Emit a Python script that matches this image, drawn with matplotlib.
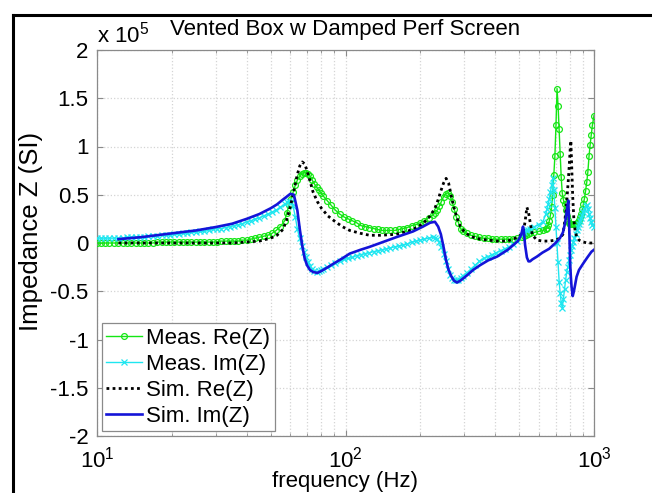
import matplotlib
matplotlib.use('Agg')
import matplotlib.pyplot as plt
from matplotlib.lines import Line2D
from matplotlib.ticker import FixedLocator, FixedFormatter, LogLocator, NullFormatter

# ---------------- data (impedance values in units of 1e5 SI) ----------------
meas_freq = [
    10.0, 10.4, 10.8, 11.2, 11.7, 12.2, 12.7, 13.2, 13.7, 14.3,
    14.9, 15.5, 16.1, 16.8, 17.5, 18.2, 18.9, 19.7, 20.5, 21.3,
    22.2, 23.1, 24.0, 25.0, 26.0, 27.0, 28.1, 29.2, 30.4, 31.6,
    32.9, 34.2, 35.6, 37.0, 38.5, 40.0, 41.6, 43.3, 45.0, 46.8,
    48.7, 50.6, 52.6, 54.7, 56.9,
    58.0, 59.2, 60.4, 61.6, 62.8, 64.0, 65.3, 66.6, 67.9, 69.3,
    70.7, 72.1, 73.5, 75.0, 76.5, 78.0, 79.6,
    81.2, 84.3, 87.6, 91.1, 94.8, 98.6, 102.5, 106.6, 110.9, 115.3,
    119.9, 124.7, 129.7, 134.9, 140.3, 145.9, 151.7, 157.8, 164.1, 170.7,
    177.5, 184.6, 192.0, 199.7, 207.6, 216.0, 224.6,
    229.1, 233.7, 238.4, 243.2, 248.0, 253.0, 258.0, 263.2, 268.5, 273.9,
    279.3, 284.9, 290.6, 296.4,
    307.4, 319.7, 332.4, 345.7, 359.6, 374.0, 388.9, 404.5, 420.7, 437.5,
    455.0, 473.2, 492.1, 511.8, 522.0, 532.3, 542.0, 553.6, 575.7, 598.7,
    622.7,
    640, 647, 654, 661, 668, 675, 682, 689, 696, 703,
    710, 717, 724, 731, 738, 745, 753, 761, 769, 777,
    785, 793, 801, 809, 817, 825, 834, 843, 852, 861,
    870, 879, 888, 897, 906, 915, 925, 935, 945, 955,
    965, 975, 985, 1000,
]

meas_re = [
    0.00, 0.00, 0.00, 0.00, 0.00, 0.00, 0.00, 0.00, 0.00, 0.00,
    0.00, 0.00, 0.00, 0.00, 0.01, 0.01, 0.01, 0.01, 0.01, 0.01,
    0.01, 0.01, 0.01, 0.01, 0.01, 0.01, 0.01, 0.01, 0.01, 0.02,
    0.02, 0.02, 0.02, 0.02, 0.03, 0.03, 0.04, 0.05, 0.06, 0.07,
    0.08, 0.10, 0.13, 0.17, 0.23,
    0.31, 0.39, 0.46, 0.53, 0.60, 0.65, 0.69, 0.72, 0.73, 0.73,
    0.72, 0.69, 0.65, 0.61, 0.58, 0.55, 0.52,
    0.49, 0.44, 0.39, 0.34, 0.30, 0.27, 0.25, 0.23, 0.21, 0.18,
    0.17, 0.16, 0.15, 0.14, 0.13, 0.13, 0.13, 0.13, 0.14, 0.15,
    0.16, 0.18, 0.19, 0.21, 0.23, 0.26, 0.29,
    0.31, 0.34, 0.38, 0.43, 0.48, 0.51, 0.52, 0.49, 0.43, 0.35,
    0.27, 0.21, 0.15, 0.12,
    0.10, 0.08, 0.07, 0.06, 0.05, 0.05, 0.04, 0.04, 0.04, 0.04,
    0.04, 0.04, 0.05, 0.06, 0.07, 0.08, 0.09, 0.10, 0.11, 0.12,
    0.13,
    0.14, 0.16, 0.19, 0.23, 0.29, 0.37, 0.50, 0.70, 0.90, 1.22,
    1.60, 1.42, 1.18, 0.92, 0.68, 0.52, 0.45, 0.40, 0.34, 0.28,
    0.24, 0.21, 0.20, 0.20, 0.20, 0.20, 0.20, 0.20, 0.21, 0.22,
    0.24, 0.27, 0.30, 0.35, 0.40, 0.46, 0.54, 0.63, 0.74, 0.90,
    1.02, 1.12, 1.22, 1.32,
]

meas_im = [
    0.05, 0.05, 0.05, 0.05, 0.05, 0.05, 0.05, 0.06, 0.06, 0.06,
    0.06, 0.06, 0.07, 0.07, 0.07, 0.08, 0.08, 0.08, 0.09, 0.09,
    0.10, 0.10, 0.11, 0.11, 0.12, 0.12, 0.13, 0.14, 0.15, 0.15,
    0.16, 0.17, 0.18, 0.19, 0.20, 0.22, 0.23, 0.25, 0.26, 0.28,
    0.30, 0.32, 0.34, 0.37, 0.40,
    0.42, 0.44, 0.43, 0.38, 0.27, 0.15, 0.05, -0.03, -0.09, -0.15,
    -0.20, -0.24, -0.27, -0.29, -0.30, -0.29, -0.28,
    -0.27, -0.25, -0.23, -0.21, -0.19, -0.17, -0.16, -0.15, -0.13, -0.12,
    -0.11, -0.10, -0.09, -0.08, -0.07, -0.06, -0.05, -0.04, -0.03, -0.02,
    -0.01, 0.01, 0.02, 0.03, 0.04, 0.05, 0.06,
    0.05, 0.04, 0.01, -0.04, -0.11, -0.19, -0.27, -0.33, -0.36, -0.38,
    -0.38, -0.38, -0.36, -0.34,
    -0.31, -0.27, -0.23, -0.19, -0.16, -0.14, -0.12, -0.10, -0.08, -0.06,
    -0.04, -0.01, 0.02, 0.08, 0.11, 0.13, 0.13, 0.15, 0.17, 0.19,
    0.22,
    0.30, 0.35, 0.40, 0.46, 0.53, 0.60, 0.67, 0.55, 0.36, 0.17,
    0.00, -0.20, -0.40, -0.52, -0.62, -0.67, -0.58, -0.48, -0.38, -0.30,
    -0.25, -0.18, -0.12, -0.07, -0.03, 0.01, 0.05, 0.09, 0.13, 0.17,
    0.20, 0.23, 0.26, 0.29, 0.32, 0.35, 0.38, 0.39, 0.35, 0.30,
    0.26, 0.22, 0.19, 0.17,
]

sim_freq = [
    12.2, 15, 20, 25, 30, 35, 40, 45, 50, 53,
    56, 58, 60, 62, 64, 65.5, 67, 68.5, 70, 72,
    74, 77, 80, 85, 90, 97, 104, 115, 125, 138,
    160, 187, 205, 219, 229, 236, 242, 248, 254, 260,
    266, 273, 281, 290, 300, 310, 326, 348, 375, 408,
    450, 494, 510, 518, 523, 528, 537, 545, 553, 565,
    590, 620, 660, 700, 729, 750, 764, 778, 788, 795,
    802, 807, 812, 821, 830, 840, 851, 870, 906, 940,
    977, 1000,
]

sim_re = [
    0.00, 0.00, 0.00, 0.00, 0.00, 0.00, 0.01, 0.02, 0.05, 0.08,
    0.14, 0.24, 0.38, 0.54, 0.71, 0.80, 0.84, 0.82, 0.75, 0.64,
    0.53, 0.43, 0.36, 0.28, 0.23, 0.17, 0.13, 0.10, 0.08, 0.08,
    0.09, 0.14, 0.20, 0.28, 0.36, 0.45, 0.54, 0.62, 0.67, 0.62,
    0.50, 0.37, 0.26, 0.17, 0.12, 0.09, 0.06, 0.04, 0.03, 0.02,
    0.02, 0.06, 0.09, 0.12, 0.16, 0.22, 0.37, 0.32, 0.22, 0.08,
    0.03, 0.02, 0.02, 0.03, 0.05, 0.09, 0.24, 0.45, 0.65, 0.80,
    0.97, 1.06, 0.85, 0.48, 0.24, 0.12, 0.07, 0.03, 0.01, 0.00,
    0.00, 0.00,
]

sim_im = [
    0.04, 0.06, 0.10, 0.13, 0.165, 0.20, 0.25, 0.30, 0.36, 0.40,
    0.45, 0.48, 0.51, 0.50, 0.34, 0.14, -0.03, -0.16, -0.23, -0.28,
    -0.30, -0.31, -0.29, -0.25, -0.21, -0.16, -0.11, -0.07, -0.04, 0.00,
    0.06, 0.12, 0.17, 0.21, 0.22, 0.17, 0.09, -0.04, -0.18, -0.28,
    -0.34, -0.39, -0.41, -0.39, -0.36, -0.33, -0.28, -0.23, -0.18, -0.14,
    -0.07, 0.02, 0.09, 0.17, 0.10, -0.02, -0.15, -0.19, -0.19, -0.17,
    -0.14, -0.10, -0.06, 0.00, 0.05, 0.11, 0.20, 0.34, 0.44, 0.15,
    -0.22, -0.35, -0.45, -0.55, -0.50, -0.43, -0.35, -0.28, -0.21, -0.15,
    -0.09, -0.07,
]

series_labels = ['Meas. Re(Z)', 'Meas. Im(Z)', 'Sim. Re(Z)', 'Sim. Im(Z)']
y_ticks = [-2, -1.5, -1, -0.5, 0, 0.5, 1, 1.5, 2]
y_tick_labels = ['-2', '-1.5', '-1', '-0.5', '0', '0.5', '1', '1.5', '2']
title_text = 'Vented Box w Damped Perf Screen'
x_label = 'frequency (Hz)'
y_label = 'Impedance Z (SI)'

# ---------------- styling ----------------
plt.rcParams['font.family'] = ['Liberation Sans', 'DejaVu Sans']
plt.rcParams['mathtext.fontset'] = 'custom'
plt.rcParams['mathtext.rm'] = 'Liberation Sans'
plt.rcParams['mathtext.it'] = 'Liberation Sans:italic'
plt.rcParams['mathtext.bf'] = 'Liberation Sans:bold'
plt.rcParams['axes.unicode_minus'] = False

W, H = 652, 493
fig = plt.figure(figsize=(W / 100, H / 100), dpi=100)
ax_l, ax_r, ax_t, ax_b = 97, 594, 50, 436
ax = fig.add_axes([ax_l / W, 1 - ax_b / H, (ax_r - ax_l) / W, (ax_b - ax_t) / H])

c_green = '#14e614'
c_cyan = '#1ee6f0'
c_blue = '#1414d8'

ax.plot(meas_freq, meas_re, color=c_green, lw=1.0, marker='o', ms=4.2,
        mfc='none', mew=0.9, label=series_labels[0], zorder=3)
ax.plot(meas_freq, meas_im, color=c_cyan, lw=1.0, marker='x', ms=4.0,
        mew=0.9, label=series_labels[1], zorder=3)
ax.plot(sim_freq, sim_re, color='black', lw=2.0, ls=(0, (1, 1.2)),
        label=series_labels[2], zorder=4)
ax.plot(sim_freq, sim_im, color=c_blue, lw=1.9, label=series_labels[3], zorder=5)

ax.set_xscale('log')
ax.set_xlim(10, 1000)
ax.set_ylim(-2, 2)
ax.yaxis.set_major_locator(FixedLocator(y_ticks))
ax.yaxis.set_major_formatter(FixedFormatter(y_tick_labels))
ax.xaxis.set_major_locator(LogLocator(base=10))
ax.xaxis.set_minor_locator(LogLocator(base=10, subs=range(2, 10)))
ax.xaxis.set_minor_formatter(NullFormatter())

grid_kw = dict(color='#d4d4d4', linestyle=':', linewidth=0.9)
ax.grid(True, which='major', axis='both', **grid_kw)
ax.grid(True, which='minor', axis='x', **grid_kw)
ax.set_axisbelow(True)

for s in ax.spines.values():
    s.set_color('#8a8a8a')
    s.set_linewidth(0.9)
ax.tick_params(which='both', direction='in', top=True, right=True,
               color='#8a8a8a', labelsize=16, labelcolor='black')
ax.tick_params(which='major', length=4)
ax.tick_params(which='minor', length=2.5)
ax.tick_params(axis='x', which='major', pad=7.5)
ax.tick_params(axis='y', which='major', pad=6)

ax.set_title(title_text, fontsize=16, pad=11)
ax.text(0.0, 1.006, r'x 10$^5$', transform=ax.transAxes, fontsize=16,
        ha='left', va='bottom')
fig.text((ax_l + ax_r) / 2 / W, 1 - 481 / H, x_label, fontsize=16,
         ha='center', va='center')
fig.text(31 / W, 1 - 231 / H, y_label, fontsize=18.5, rotation=90,
         ha='center', va='center')

leg = ax.legend(loc='lower left', bbox_to_anchor=(0.01, 0.013),
                borderaxespad=0, fontsize=16, handlelength=1.6,
                handletextpad=0.2, borderpad=0.2, labelspacing=0.22,
                fancybox=False, edgecolor='#8a8a8a', framealpha=1,
                numpoints=1)
leg.get_frame().set_linewidth(0.9)

# figure border (left and top edge of frame)
bx, by = 13 / W, 1 - 15 / H
fig.add_artist(Line2D([bx, bx], [0, by], transform=fig.transFigure,
                      color='black', lw=2.2, solid_capstyle='projecting'))
fig.add_artist(Line2D([bx, 1], [by, by], transform=fig.transFigure,
                      color='black', lw=2.2, solid_capstyle='projecting'))

fig.savefig('out.png', dpi=100)
